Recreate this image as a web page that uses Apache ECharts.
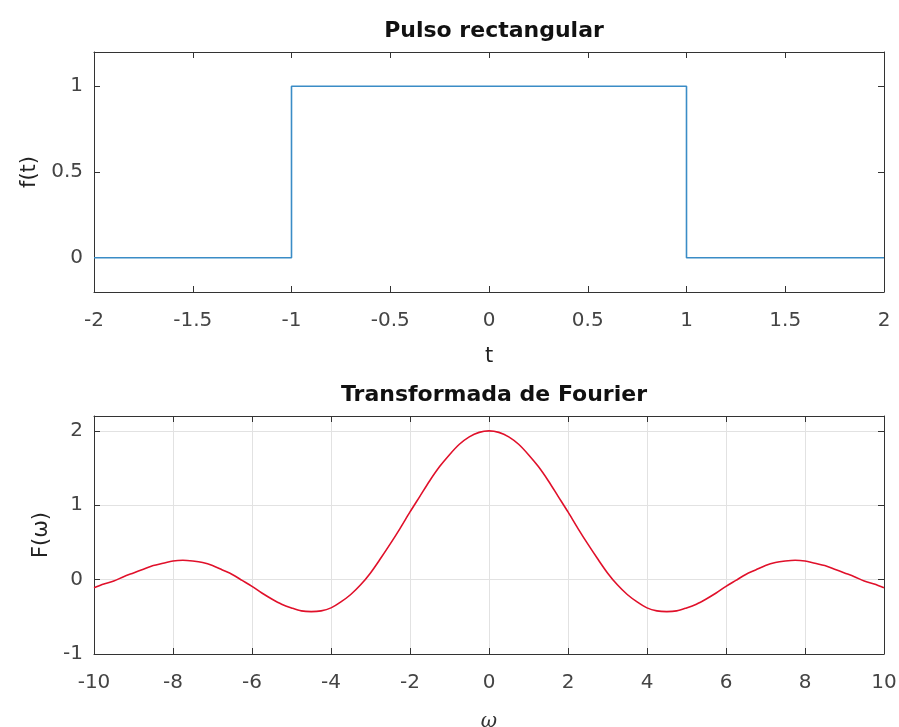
<!DOCTYPE html>
<html>
<head>
<meta charset="utf-8">
<script src="https://cdn.jsdelivr.net/npm/echarts@6/dist/echarts.min.js"></script>
<style>
  html, body { margin: 0; padding: 0; background: #ffffff; }
  #chart { width: 899px; height: 727px; }
</style>
</head>
<body>
<div id="chart"></div>
<script>
// Rectangular pulse f(t): corners of the step signal
const tValues = [-2, -1, -1, 1, 1, 2];
const fValues = [0, 0, 1, 1, 0, 0];

// Fourier transform F(w), sampled every 0.25 rad/s
const omegaValues = [
  -10, -9.75, -9.5, -9.25, -9, -8.75, -8.5, -8.25, -8, -7.75, -7.5, -7.25, -7, -6.75, -6.5, -6.25,
  -6, -5.75, -5.5, -5.25, -5, -4.75, -4.5, -4.25, -4, -3.75, -3.5, -3.25, -3, -2.75, -2.5, -2.25,
  -2, -1.75, -1.5, -1.25, -1, -0.75, -0.5, -0.25,
  0, 0.25, 0.5, 0.75, 1, 1.25, 1.5, 1.75, 2, 2.25, 2.5, 2.75, 3, 3.25, 3.5, 3.75,
  4, 4.25, 4.5, 4.75, 5, 5.25, 5.5, 5.75, 6, 6.25, 6.5, 6.75, 7, 7.25, 7.5, 7.75,
  8, 8.25, 8.5, 8.75, 9, 9.25, 9.5, 9.75, 10
];
const FValues = [
  -0.11, -0.06, -0.02, 0.04, 0.09, 0.14, 0.19, 0.22, 0.25, 0.26, 0.25, 0.23, 0.19, 0.13, 0.07, -0.01,
  -0.09, -0.18, -0.26, -0.33, -0.38, -0.42, -0.43, -0.42, -0.38, -0.30, -0.20, -0.07, 0.09, 0.28, 0.48, 0.69,
  0.91, 1.12, 1.33, 1.52, 1.68, 1.82, 1.92, 1.98,
  2.00, 1.98, 1.92, 1.82, 1.68, 1.52, 1.33, 1.12, 0.91, 0.69, 0.48, 0.28, 0.09, -0.07, -0.20, -0.30,
  -0.38, -0.42, -0.43, -0.42, -0.38, -0.33, -0.26, -0.18, -0.09, -0.01, 0.07, 0.13, 0.19, 0.23, 0.25, 0.26,
  0.25, 0.22, 0.19, 0.14, 0.09, 0.04, -0.02, -0.06, -0.11
];

// Tick labels shown on the pulse's vertical axis
const pulseYTicks = [0, 0.5, 1];

const FONT = 'DejaVu Sans';
const AXIS_COLOR = '#333333';
const LABEL_COLOR = '#444444';

function pairs(xs, ys) {
  return xs.map((x, i) => [x, ys[i]]);
}

const tickLabel = { color: LABEL_COLOR, fontFamily: FONT, fontSize: 20 };
const nameStyle = { color: '#222222', fontFamily: FONT, fontSize: 21 };

function boxAxis(gridIndex, position, min, max, extra) {
  return Object.assign({
    type: 'value',
    gridIndex: gridIndex,
    position: position,
    min: min,
    max: max,
    axisLine: { show: true, onZero: false, lineStyle: { color: AXIS_COLOR, width: 1 } },
    axisTick: { show: true, inside: true, length: 6, lineStyle: { color: AXIS_COLOR } },
    axisLabel: { show: false },
    splitLine: { show: false }
  }, extra || {});
}

const chart = echarts.init(document.getElementById('chart'), null, { renderer: 'canvas' });

chart.setOption({
  backgroundColor: '#ffffff',
  animation: false,
  title: [
    {
      text: 'Pulso rectangular',
      left: 489, top: 15, textAlign: 'center',
      textStyle: { fontFamily: FONT, fontWeight: 'bold', fontSize: 22, color: '#111111' }
    },
    {
      text: 'Transformada de Fourier',
      left: 489, top: 379, textAlign: 'center',
      textStyle: { fontFamily: FONT, fontWeight: 'bold', fontSize: 22, color: '#111111' }
    }
  ],
  grid: [
    { left: 94, top: 52, width: 790, height: 240, outerBoundsMode: 'none', containLabel: false },
    { left: 94, top: 416, width: 790, height: 238, outerBoundsMode: 'none', containLabel: false }
  ],
  xAxis: [
    boxAxis(0, 'bottom', -2, 2, {
      interval: 0.5,
      axisLabel: Object.assign({ show: true, margin: 19 }, tickLabel),
      name: 't', nameLocation: 'middle', nameGap: 54, nameTextStyle: nameStyle
    }),
    boxAxis(0, 'top', -2, 2, { interval: 0.5 }),
    boxAxis(1, 'bottom', -10, 10, {
      interval: 2,
      axisLabel: Object.assign({ show: true, margin: 19 }, tickLabel),
      splitLine: { show: true, lineStyle: { color: '#e2e2e2', width: 1 } },
      name: 'ω', nameLocation: 'middle', nameGap: 58,
      nameTextStyle: { color: '#333333', fontFamily: 'DejaVu Serif', fontStyle: 'italic', fontSize: 20 }
    }),
    boxAxis(1, 'top', -10, 10, { interval: 2 })
  ],
  yAxis: [
    boxAxis(0, 'left', -0.2, 1.2, {
      axisTick: { show: true, inside: true, length: 6, customValues: pulseYTicks, lineStyle: { color: AXIS_COLOR } },
      axisLabel: Object.assign({ show: true, margin: 11, customValues: pulseYTicks }, tickLabel),
      name: 'f(t)', nameLocation: 'middle', nameGap: 54, nameTextStyle: nameStyle
    }),
    boxAxis(0, 'right', -0.2, 1.2, {
      axisTick: { show: true, inside: true, length: 6, customValues: pulseYTicks, lineStyle: { color: AXIS_COLOR } }
    }),
    boxAxis(1, 'left', -1, 2.2, {
      interval: 1,
      axisLabel: Object.assign({
        show: true, margin: 11,
        formatter: v => (Math.abs(v - Math.round(v)) < 1e-9 ? String(Math.round(v)) : '')
      }, tickLabel),
      splitLine: { show: true, lineStyle: { color: '#e2e2e2', width: 1 } },
      name: 'F(ω)', nameLocation: 'middle', nameGap: 42, nameTextStyle: nameStyle
    }),
    boxAxis(1, 'right', -1, 2.2, { interval: 1 })
  ],
  series: [
    {
      type: 'line',
      xAxisIndex: 0, yAxisIndex: 0,
      data: pairs(tValues, fValues),
      showSymbol: false,
      lineStyle: { color: '#3a8cc6', width: 1.6 }
    },
    {
      type: 'line',
      xAxisIndex: 2, yAxisIndex: 2,
      data: pairs(omegaValues, FValues),
      smooth: 0.3,
      showSymbol: false,
      lineStyle: { color: '#e0102a', width: 1.6 }
    }
  ]
});
</script>
</body>
</html>
